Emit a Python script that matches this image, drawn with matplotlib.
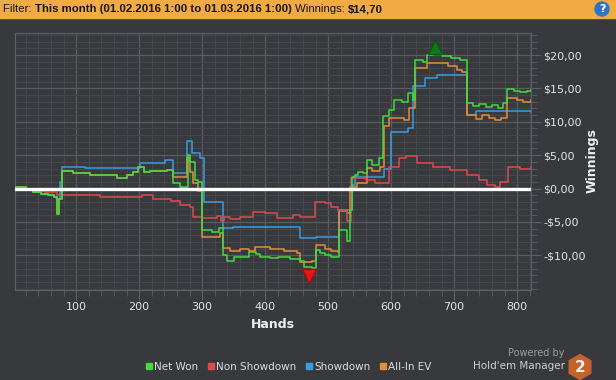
import matplotlib
matplotlib.use('Agg')
import matplotlib.pyplot as plt
from matplotlib.ticker import FixedLocator, MultipleLocator, FuncFormatter
from matplotlib.patches import Rectangle, Circle, RegularPolygon
from matplotlib.lines import Line2D
from matplotlib.transforms import IdentityTransform

# (hand, winnings) breakpoints, drawn as steps
net_won = [
    (1, 0.2), (20, 0.0), (32, -0.5), (45, -0.8), (55, -1.0), (65, -1.2), (69, -3.8), (73, -1.5),
    (77, 2.7), (95, 2.4), (122, 2.0), (150, 2.1), (165, 1.6), (180, 2.0), (190, 2.5), (198, 3.3),
    (207, 2.5), (217, 2.6), (245, 2.8), (254, 0.8), (265, 0.3), (277, 5.0), (281, 4.0), (288, 1.3),
    (294, 1.0), (300, -6.2), (315, -6.5), (326, -5.9), (333, -10.0), (340, -10.8), (350, -10.2),
    (375, -9.5), (385, -9.8), (392, -10.2), (408, -10.4), (420, -10.2), (440, -10.5), (455, -10.8),
    (462, -11.7), (475, -11.9), (480, -9.2), (487, -9.6), (495, -9.9), (505, -10.2), (517, -6.2),
    (530, -7.9), (535, -3.2), (538, 1.8), (543, 2.05), (548, 2.55), (556, 2.4), (562, 4.3),
    (570, 3.6), (580, 4.6), (587, 10.8), (596, 11.8), (605, 13.3), (617, 13.0), (627, 14.3),
    (635, 13.3), (638, 19.3), (650, 19.0), (657, 20.05), (667, 20.2), (680, 19.8), (695, 19.5),
    (710, 19.2), (720, 12.8), (730, 12.4), (740, 12.6), (750, 12.2), (760, 12.5), (770, 12.1),
    (778, 12.8), (784, 14.9), (795, 14.6), (805, 14.4), (815, 14.6), (822, 14.7),
]
non_showdown = [
    (1, 0.2), (20, 0.0), (32, -0.3), (50, -0.5), (70, -0.9), (100, -1.0), (138, -1.3), (170, -1.2),
    (205, -1.0), (222, -1.5), (250, -1.8), (265, -2.4), (280, -2.8), (286, -4.3), (300, -4.4),
    (323, -4.1), (330, -4.8), (335, -4.2), (345, -4.6), (360, -4.3), (381, -3.5), (400, -3.6),
    (419, -4.4), (445, -4.0), (455, -4.2), (479, -1.95), (495, -2.2), (505, -2.8), (515, -3.3),
    (530, -4.9), (537, 1.6), (560, 1.3), (575, 0.9), (596, 3.3), (613, 4.55), (624, 4.8),
    (641, 3.8), (667, 3.3), (693, 2.8), (720, 2.05), (740, 1.3), (752, 0.55), (765, 0.3),
    (773, 1.05), (786, 3.3), (805, 2.9), (822, 3.2),
]
showdown = [
    (1, 0.2), (20, 0.0), (32, -0.5), (45, -0.8), (55, -1.0), (65, -1.2), (70, -1.5), (75, 1.0),
    (78, 3.3), (114, 3.05), (202, 3.9), (241, 4.3), (254, 2.3), (276, 7.15), (284, 5.3),
    (297, 4.55), (303, -1.95), (333, -5.95), (349, -5.7), (455, -7.45), (480, -7.2), (517, -3.2),
    (538, 0.55), (543, 1.8), (588, 3.0), (600, 8.5), (627, 9.0), (635, 15.3), (654, 16.55),
    (673, 17.05), (720, 11.05), (735, 11.55), (822, 11.5),
]
all_in_ev = [
    (1, 0.2), (20, 0.0), (32, -0.5), (45, -0.8), (55, -1.0), (65, -1.2), (69, -3.8), (73, -1.5),
    (77, 2.7), (95, 2.4), (122, 2.0), (150, 2.1), (165, 1.6), (180, 2.0), (190, 2.5), (198, 3.3),
    (207, 2.5), (217, 2.6), (245, 2.8), (254, 1.8), (276, 4.5), (281, 2.5), (286, 0.9), (294, -0.3),
    (300, -7.2), (329, -6.7), (333, -8.9), (345, -9.4), (360, -9.1), (375, -9.3), (384, -8.7),
    (408, -9.0), (430, -9.3), (450, -9.7), (455, -11.0), (475, -10.9), (480, -8.4), (495, -9.0),
    (505, -9.3), (515, -9.5), (517, -3.4), (530, -3.6), (535, 0.3), (546, 0.85), (562, 3.1),
    (570, 2.6), (583, 3.3), (588, 9.3), (596, 10.55), (620, 10.3), (628, 12.05), (638, 18.05),
    (657, 18.8), (690, 18.3), (705, 17.8), (712, 17.5), (720, 11.0), (735, 10.4), (745, 11.0),
    (755, 10.5), (765, 10.3), (775, 10.6), (784, 13.55), (800, 13.3), (810, 13.0), (822, 13.2),
]
series_names = ['Net Won', 'Non Showdown', 'Showdown', 'All-In EV']
series_colors = ['#3fdc3f', '#dc4b4d', '#3a9de0', '#e58d38']
best_point = (669, 21.2)
worst_point = (470, -13.1)
y_ticks = [-10, -5, 0, 5, 10, 15, 20]
x_ticks = [100, 200, 300, 400, 500, 600, 700, 800]

BG = '#37393d'
W, H = 616, 380
fig = plt.figure(figsize=(W / 100, H / 100), dpi=100, facecolor=BG)
ax = fig.add_axes([15 / W, 90 / H, 516 / W, 257 / H], facecolor=BG)

# linien
order = [(showdown, 2), (all_in_ev, 3), (non_showdown, 3), (net_won, 4)]
cols = {id(showdown): series_colors[2], id(all_in_ev): series_colors[3],
        id(non_showdown): series_colors[1], id(net_won): series_colors[0]}
for data, z in order:
    hx = [p[0] for p in data]
    hy = [p[1] for p in data]
    ax.plot(hx, hy, drawstyle='steps-post', color=cols[id(data)], lw=1.1, zorder=z)

ax.axhline(0, color='white', lw=2.4, zorder=6)
ax.plot(*best_point, marker='^', ms=10.5, color='#0c7c16', mec='#075a0e', zorder=7, clip_on=False)
ax.plot(*worst_point, marker='v', ms=10.5, color='#e8141c', mec='#a80c10', zorder=7, clip_on=False)

# achsen
ax.set_xlim(3, 822)
ax.set_ylim(-15.2, 23.3)
ax.yaxis.tick_right()
ax.xaxis.set_major_locator(FixedLocator(x_ticks))
ax.xaxis.set_minor_locator(MultipleLocator(20))
ax.yaxis.set_major_locator(FixedLocator(y_ticks))
ax.yaxis.set_minor_locator(MultipleLocator(1))
ax.yaxis.set_major_formatter(FuncFormatter(
    lambda v, p: ('-$' if v < 0 else '$') + f'{abs(v):.2f}'.replace('.', ',')))
ax.grid(which='minor', color='#44474b', lw=0.8, zorder=0)
ax.grid(which='major', color='#595c60', lw=0.9, zorder=0)
ax.set_axisbelow(True)
for sp in ax.spines.values():
    sp.set_color('#5d6064')
ax.tick_params(which='major', length=7, color='#5d6064', labelcolor='#e4e4e4', labelsize=8, pad=2)
ax.tick_params(which='minor', length=4, color='#5d6064')

fig.text(273 / W, 1 - 325 / H, 'Hands', ha='center', va='center', fontsize=9,
         fontweight='bold', color='#f0f0f0')
fig.text(592 / W, 1 - 161 / H, 'Winnings', ha='center', va='center', fontsize=9,
         fontweight='bold', color='#f0f0f0', rotation=90)

# kopfzeile
fig.patches.append(Rectangle((0, 1 - 18 / H), 1, 18 / H, transform=fig.transFigure,
                             color='#f2ab44', zorder=0))
renderer = fig.canvas.get_renderer()
x = 3
for s, w in [('Filter: ', 'normal'), ('This month (01.02.2016 1:00 to 01.03.2016 1:00) ', 'bold'),
             ('Winnings: ', 'normal'), ('$14,70', 'bold')]:
    t = fig.text(x / W, 1 - 9.5 / H, s, fontsize=8.2, fontweight=w, family='Liberation Sans',
                 va='center', ha='left', color='#151515')
    x += t.get_window_extent(renderer).width
fig.patches.append(Circle((602, H - 9), 7, transform=IdentityTransform(), color='#2f74c4'))
fig.text(602 / W, 1 - 9.5 / H, '?', ha='center', va='center', fontsize=8, fontweight='bold',
         color='white')

# legende
handles = [Line2D([], [], marker='s', ls='', color=c, ms=4.5) for c in series_colors]
fig.legend(handles, series_names, loc='center', bbox_to_anchor=(288 / W, 1 - 367 / H), ncol=4,
           frameon=False, fontsize=7.5, labelcolor='#dcdcdc', handletextpad=0.1,
           columnspacing=0.8, handlelength=0.8)

fig.text(565 / W, 1 - 353 / H, 'Powered by', ha='right', va='center', fontsize=7, color='#9c9c9c')
fig.text(565 / W, 1 - 366 / H, "Hold'em Manager", ha='right', va='center', fontsize=7.5,
         color='#cfcfcf')
fig.patches.append(RegularPolygon((580, H - 367), numVertices=6, radius=12.5,
                                  transform=IdentityTransform(), color='#c6622c'))
fig.text(580 / W, 1 - 367 / H, '2', ha='center', va='center', fontsize=11, fontweight='bold',
         color='#f2f2f2')

fig.savefig('out.png', dpi=100, facecolor=BG)
